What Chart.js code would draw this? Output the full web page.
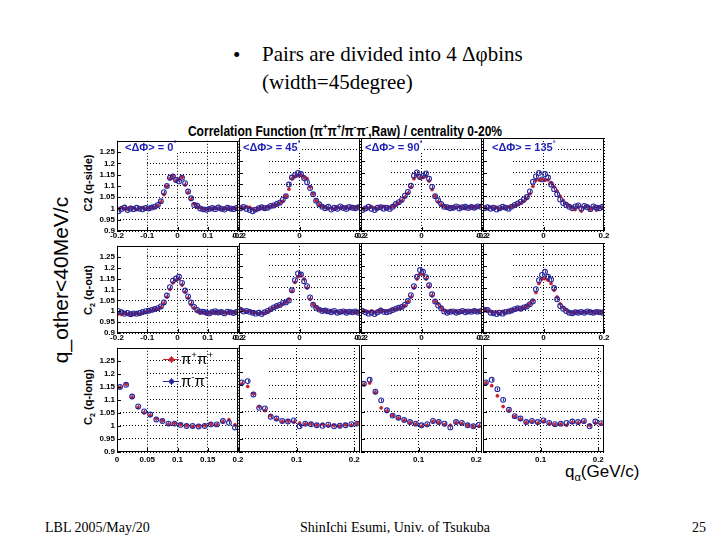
<!DOCTYPE html>
<html>
<head>
<meta charset="utf-8">
<title>Correlation Function - centrality 0-20%</title>
<script src="https://cdn.jsdelivr.net/npm/chart.js@4.4.3/dist/chart.umd.min.js"></script>
<style>
	html, body { margin: 0; padding: 0; background: #fff; }
	#slide { position: relative; width: 720px; height: 540px; overflow: hidden; background: #fff; }
	#slide canvas { position: absolute; }
	.txt { position: absolute; white-space: nowrap; color: #000; line-height: 1; }
	.serif { font-family: "Liberation Serif", "DejaVu Serif", serif; }
	.sans { font-family: "Liberation Sans", Arial, sans-serif; }
	.mid { transform: translate(-50%, -50%); }
	.rot { transform: translate(-50%, -50%) rotate(-90deg); }
	.phi { color: #1f1fb4; font-weight: bold; font-size: 11px; background: #fff; padding: 0 2px; z-index: 2; }
	sup, sub { font-size: 65%; line-height: 0; }
</style>
</head>
<body>
<div id="slide">
	<div class="txt serif" style="left:233px;top:45px;font-size:21px;">&bull;</div>
	<div class="txt serif" style="left:262px;top:44px;font-size:21px;">Pairs are divided into 4 &Delta;&phi;bins</div>
	<div class="txt serif" style="left:262px;top:72px;font-size:21px;">(width=45degree)</div>

	<div class="txt sans" style="left:345px;top:131px;font-size:14px;font-weight:bold;transform:translate(-50%,-50%) scaleX(0.86);">Correlation Function (&pi;<sup>+</sup>&pi;<sup>+</sup>/&pi;<sup>-</sup>&pi;<sup>-</sup>,Raw) / centrality 0-20%</div>

	<div class="txt sans phi" style="left:123px;top:142px;">&lt;&Delta;&Phi;&gt; = 0<sup>&deg;</sup></div>
	<div class="txt sans phi" style="left:241px;top:142px;">&lt;&Delta;&Phi;&gt; = 45<sup>&deg;</sup></div>
	<div class="txt sans phi" style="left:363px;top:142px;">&lt;&Delta;&Phi;&gt; = 90<sup>&deg;</sup></div>
	<div class="txt sans phi" style="left:490px;top:142px;">&lt;&Delta;&Phi;&gt; = 135<sup>&deg;</sup></div>

	<div class="txt sans rot" style="left:88px;top:183px;font-size:11px;font-weight:bold;">C2 (q-side)</div>
	<div class="txt sans rot" style="left:88px;top:290px;font-size:11px;font-weight:bold;">C<sub>2</sub> (q-out)</div>
	<div class="txt sans rot" style="left:88px;top:397px;font-size:11px;font-weight:bold;">C<sub>2</sub> (q-long)</div>

	<div class="txt sans rot" style="left:60px;top:280px;font-size:21px;">q_other&lt;40MeV/c</div>

	<div class="txt sans" style="left:565px;top:463px;font-size:17px;">q<sub>&alpha;</sub>(GeV/c)</div>

	<div class="txt serif" style="left:45px;top:521px;font-size:14px;">LBL 2005/May/20</div>
	<div class="txt serif mid" style="left:395px;top:528px;font-size:14px;">ShinIchi Esumi, Univ. of Tsukuba</div>
	<div class="txt serif" style="left:692px;top:521px;font-size:14px;">25</div>
</div>

<script>
// =========================================================
// Data
// =========================================================

// Bin centres, GeV/c.
var Q_SYM = [-0.195, -0.185, -0.175, -0.165, -0.155, -0.145, -0.135, -0.125, -0.115, -0.105,
	-0.095, -0.085, -0.075, -0.065, -0.055, -0.045, -0.035, -0.025, -0.015, -0.005,
	0.005, 0.015, 0.025, 0.035, 0.045, 0.055, 0.065, 0.075, 0.085, 0.095,
	0.105, 0.115, 0.125, 0.135, 0.145, 0.155, 0.165, 0.175, 0.185, 0.195];
var Q_LONG = [0.005, 0.015, 0.025, 0.035, 0.045, 0.055, 0.065, 0.075, 0.085, 0.095,
	0.105, 0.115, 0.125, 0.135, 0.145, 0.155, 0.165, 0.175, 0.185, 0.195, 0.205];

var PHI_BINS = ['0', '45', '90', '135'];
var SERIES_LABELS = ['π+π+', 'π-π-'];

// Tick labels.
var Y_TICKS = [0.9, 0.95, 1, 1.05, 1.1, 1.15, 1.2, 1.25];
var X_TICKS_SYM_FIRST = [-0.2, -0.1, 0, 0.1, 0.2];
var X_TICKS_SYM = [-0.2, 0, 0.2];
var X_TICKS_LONG_FIRST = [0, 0.05, 0.1, 0.15, 0.2];
var X_TICKS_LONG = [0.1, 0.2];

// C2 (q-side), pi+pi+ and pi-pi-.
var SIDE_PP_0 = [0.998, 1.003, 1.0, 0.996, 1.005, 1.002, 0.995, 1.0, 1.004, 0.998, 1.001, 1.006, 1.004,
	1.012, 1.028, 1.062, 1.098, 1.132, 1.145, 1.122, 1.13, 1.138, 1.104, 1.07, 1.04, 1.02, 1.008, 1.003,
	0.998, 0.996, 1.0, 0.995, 1.004, 1.0, 0.997, 1.002, 1.0, 0.996, 1.003, 0.999];
var SIDE_MM_0 = [0.988, 0.998, 1.004, 0.993, 1.0, 0.997, 1.003, 0.999, 0.996, 1.002, 1.0, 1.004, 1.008,
	1.015, 1.032, 1.072, 1.1, 1.136, 1.142, 1.126, 1.12, 1.136, 1.112, 1.075, 1.045, 1.015, 1.012, 1.0,
	0.996, 0.994, 0.998, 1.002, 0.997, 1.004, 0.999, 0.995, 1.003, 1.0, 0.997, 1.002];
var SIDE_PP_45 = [1.0, 0.998, 1.004, 1.002, 0.995, 0.99, 0.997, 1.0, 0.996, 1.004, 1.006, 1.01, 1.012,
	1.02, 1.028, 1.05, 1.08, 1.125, 1.135, 1.138, 1.14, 1.13, 1.125, 1.09, 1.06, 1.03, 1.012, 1.006,
	1.002, 0.996, 1.0, 0.994, 1.004, 0.998, 1.0, 1.005, 0.996, 1.002, 1.0, 1.004];
var SIDE_MM_45 = [0.998, 1.003, 0.995, 0.99, 0.985, 0.992, 0.998, 1.002, 0.998, 1.0, 1.008, 1.01, 1.016,
	1.022, 1.035, 1.05, 1.1, 1.13, 1.14, 1.15, 1.145, 1.128, 1.11, 1.085, 1.058, 1.03, 1.015, 1.004,
	0.998, 1.004, 0.992, 1.0, 0.996, 1.006, 0.999, 0.995, 1.003, 1.0, 0.998, 1.002];
var SIDE_PP_90 = [0.995, 1.0, 0.998, 1.004, 1.0, 0.996, 1.003, 1.006, 0.998, 1.002, 1.008, 1.012, 1.02,
	1.03, 1.045, 1.062, 1.088, 1.125, 1.14, 1.128, 1.13, 1.135, 1.115, 1.078, 1.05, 1.025, 1.012, 1.006,
	1.0, 1.004, 0.998, 1.002, 1.006, 1.0, 0.996, 1.003, 1.005, 1.0, 1.004, 1.008];
var SIDE_MM_90 = [0.99, 0.997, 1.004, 0.995, 0.99, 1.0, 1.002, 0.996, 1.0, 0.995, 1.004, 1.016, 1.024,
	1.034, 1.052, 1.068, 1.095, 1.138, 1.152, 1.132, 1.138, 1.148, 1.125, 1.09, 1.05, 1.032, 1.016, 1.004,
	1.002, 0.998, 1.0, 1.006, 0.997, 1.002, 1.004, 0.999, 1.003, 1.0, 1.006, 1.004];
var SIDE_PP_135 = [1.0, 0.996, 1.003, 0.998, 1.002, 0.995, 1.0, 0.998, 1.004, 1.006, 1.01, 1.014, 1.02,
	1.028, 1.04, 1.06, 1.092, 1.118, 1.12, 1.122, 1.118, 1.12, 1.108, 1.09, 1.072, 1.05, 1.032, 1.018,
	1.008, 1.0, 0.992, 1.004, 0.986, 1.0, 1.006, 0.994, 1.0, 0.99, 1.004, 0.998];
var SIDE_MM_135 = [0.998, 1.002, 0.996, 1.0, 0.992, 0.998, 1.004, 1.0, 0.996, 1.005, 1.012, 1.018, 1.026,
	1.036, 1.046, 1.07, 1.112, 1.135, 1.15, 1.122, 1.145, 1.13, 1.1, 1.08, 1.058, 1.036, 1.02, 1.012,
	1.004, 0.998, 1.006, 1.01, 0.996, 1.008, 1.002, 0.994, 1.006, 1.0, 0.998, 1.004];

// C2 (q-out).
var OUT_PP_0 = [0.988, 0.985, 0.99, 0.986, 0.984, 0.988, 0.99, 0.986, 0.992, 0.995, 1.0, 1.004, 1.008,
	1.01, 1.018, 1.035, 1.065, 1.1, 1.13, 1.142, 1.148, 1.12, 1.088, 1.06, 1.03, 1.015, 1.0, 0.992,
	0.994, 0.988, 0.992, 0.996, 0.99, 0.995, 0.998, 0.992, 0.994, 0.996, 0.993, 0.995];
var OUT_MM_0 = [1.0, 0.995, 0.988, 0.992, 0.986, 0.99, 0.988, 0.992, 0.996, 1.0, 1.002, 1.006, 1.01,
	1.014, 1.022, 1.04, 1.072, 1.11, 1.14, 1.15, 1.158, 1.13, 1.095, 1.068, 1.04, 1.02, 1.006, 0.998,
	0.998, 0.994, 0.99, 0.996, 1.0, 0.994, 0.996, 0.99, 0.998, 0.995, 0.992, 0.996];
var OUT_PP_45 = [1.008, 1.0, 0.995, 0.998, 0.992, 0.99, 0.986, 0.988, 0.99, 0.995, 1.004, 1.012, 1.018,
	1.022, 1.03, 1.038, 1.05, 1.085, 1.125, 1.15, 1.155, 1.14, 1.1, 1.05, 1.028, 1.015, 1.005, 1.0,
	0.998, 0.994, 1.0, 0.992, 0.996, 0.99, 0.994, 0.998, 0.992, 0.995, 0.99, 0.994];
var OUT_MM_45 = [1.002, 0.996, 0.998, 0.994, 0.99, 0.986, 0.99, 0.984, 0.992, 0.998, 1.006, 1.014, 1.02,
	1.025, 1.034, 1.036, 1.045, 1.09, 1.135, 1.165, 1.16, 1.13, 1.108, 1.058, 1.026, 1.012, 1.004, 0.998,
	1.0, 0.996, 0.992, 0.998, 0.99, 0.994, 0.996, 0.99, 0.995, 0.992, 0.996, 0.99];
var OUT_PP_90 = [1.0, 0.996, 0.994, 0.998, 0.992, 0.996, 1.002, 0.998, 0.996, 1.0, 1.004, 1.006, 1.01,
	1.014, 1.022, 1.038, 1.06, 1.1, 1.14, 1.162, 1.16, 1.14, 1.105, 1.065, 1.04, 1.03, 1.012, 1.0,
	0.996, 1.0, 0.994, 0.998, 0.992, 0.996, 1.0, 0.994, 0.998, 1.002, 0.996, 1.0];
var OUT_MM_90 = [0.998, 0.992, 0.986, 0.99, 0.984, 0.992, 1.0, 0.994, 0.992, 0.996, 1.002, 1.008, 1.012,
	1.016, 1.026, 1.042, 1.068, 1.108, 1.15, 1.18, 1.172, 1.148, 1.112, 1.072, 1.04, 1.022, 1.01, 0.996,
	0.99, 0.994, 0.996, 0.99, 0.994, 0.998, 0.992, 0.996, 0.994, 0.998, 0.995, 0.997];
var OUT_PP_135 = [1.005, 1.0, 0.996, 0.99, 0.994, 0.986, 0.996, 0.99, 0.998, 1.0, 1.004, 1.008, 1.006,
	1.012, 1.02, 1.03, 1.045, 1.08, 1.12, 1.14, 1.142, 1.135, 1.12, 1.09, 1.06, 1.03, 1.014, 1.004,
	0.994, 0.99, 0.992, 0.996, 0.99, 0.994, 0.992, 0.996, 0.99, 0.994, 0.992, 0.996];
var OUT_MM_135 = [1.004, 1.002, 0.99, 0.988, 0.984, 0.99, 0.986, 0.994, 0.996, 1.0, 1.006, 1.01, 1.008,
	1.014, 1.018, 1.028, 1.04, 1.095, 1.135, 1.158, 1.172, 1.15, 1.138, 1.1, 1.05, 1.02, 1.008, 0.998,
	0.99, 0.988, 0.992, 0.99, 0.994, 0.99, 0.996, 0.992, 0.99, 0.994, 0.992, 0.99];

// C2 (q-long), first panel has 20 bins, the others 21.
var LONG_PP_0 = [1.148, 1.16, 1.11, 1.07, 1.05, 1.04, 1.028, 1.02, 1.006, 1.01,
	1.006, 1.002, 0.998, 1.0, 1.002, 1.008, 1.004, 1.016, 1.024, 1.004];
var LONG_MM_0 = [1.15, 1.158, 1.113, 1.075, 1.056, 1.044, 1.025, 1.019, 1.009, 1.009,
	1.004, 1.0, 1.0, 0.998, 1.0, 1.006, 1.006, 1.019, 1.012, 0.994];
var LONG_PP_45 = [1.155, 1.145, 1.118, 1.07, 1.055, 1.036, 1.022, 1.014, 1.016, 1.012,
	1.008, 1.004, 1.006, 1.0, 1.004, 0.998, 1.0, 0.996, 1.002, 1.0, 1.006];
var LONG_MM_45 = [1.16, 1.165, 1.115, 1.065, 1.063, 1.032, 1.025, 1.016, 1.014, 1.018,
	0.996, 1.006, 1.004, 1.0, 0.998, 1.002, 0.996, 0.998, 1.0, 1.004, 1.006];
var LONG_PP_90 = [1.152, 1.158, 1.122, 1.065, 1.052, 1.036, 1.026, 1.018, 1.01, 1.004,
	0.996, 1.0, 1.014, 1.01, 1.002, 1.0, 1.01, 1.006, 1.0, 0.994, 0.996];
var LONG_MM_90 = [1.155, 1.17, 1.125, 1.093, 1.056, 1.036, 1.028, 1.02, 1.012, 1.006,
	1.0, 1.004, 1.016, 1.012, 1.006, 0.992, 1.012, 1.009, 1.0, 0.996, 1.002];
var LONG_PP_135 = [1.158, 1.148, 1.11, 1.07, 1.054, 1.032, 1.022, 1.01, 1.014, 1.008,
	1.014, 1.006, 1.002, 1.004, 1.0, 1.01, 1.008, 1.012, 1.0, 1.008, 1.004];
var LONG_MM_135 = [1.16, 1.17, 1.135, 1.095, 1.058, 1.034, 1.025, 1.012, 1.016, 1.012,
	1.018, 1.009, 1.004, 1.006, 1.009, 1.014, 1.012, 1.016, 0.996, 1.014, 1.008];

// Typical statistical error per point, per row.
var ERR_SIDE = 0.006;
var ERR_OUT = 0.006;
var ERR_LONG = 0.005;

(function () {
	'use strict';

	var RED = '#c8202a';
	var BLUE = '#26269c';

	Chart.defaults.font.family = '"Liberation Sans", Arial, sans-serif';
	Chart.defaults.color = '#000';

	// Panel boxes on the slide (px).
	var COL_LEFT = [117, 239, 361, 483];
	var COL_W = 121;
	var ROW_TOP = [138, 243, 345];
	var ROW_H = [93, 90, 107];

	var rows = [
		{ pp: [SIDE_PP_0, SIDE_PP_45, SIDE_PP_90, SIDE_PP_135], mm: [SIDE_MM_0, SIDE_MM_45, SIDE_MM_90, SIDE_MM_135], q: Q_SYM, err: ERR_SIDE, sym: true },
		{ pp: [OUT_PP_0, OUT_PP_45, OUT_PP_90, OUT_PP_135], mm: [OUT_MM_0, OUT_MM_45, OUT_MM_90, OUT_MM_135], q: Q_SYM, err: ERR_OUT, sym: true },
		{ pp: [LONG_PP_0, LONG_PP_45, LONG_PP_90, LONG_PP_135], mm: [LONG_MM_0, LONG_MM_45, LONG_MM_90, LONG_MM_135], q: Q_LONG, err: ERR_LONG, sym: false }
	];

	function fmt(v) {
		return String(Math.round(v * 100) / 100);
	}

	function points(q, vals) {
		return vals.map(function (y, i) { return { x: q[i], y: y }; });
	}

	function tickList(list) {
		return function (axis) {
			axis.ticks = list.map(function (v) { return { value: v }; });
		};
	}

	// Frame, inward tick marks and error bars, ROOT style.
	var rootStyle = {
		id: 'rootStyle',
		beforeDatasetsDraw: function (chart) {
			var ctx = chart.ctx;
			var a = chart.chartArea;
			var ys = chart.scales.y;
			ctx.save();

			// Empty text pave in the upper left hides the grid there.
			ctx.fillStyle = '#fff';
			var paveBottom = ys.getPixelForValue(1.1) + 3;
			ctx.fillRect(a.left + 1, a.top + 1, 28, paveBottom - a.top);

			ctx.lineWidth = 1;
			chart.data.datasets.forEach(function (ds, i) {
				var meta = chart.getDatasetMeta(i);
				ctx.strokeStyle = ds.borderColor;
				meta.data.forEach(function (el, j) {
					var y = ds.data[j].y;
					ctx.beginPath();
					ctx.moveTo(Math.round(el.x) + 0.5, ys.getPixelForValue(y - ds.err));
					ctx.lineTo(Math.round(el.x) + 0.5, ys.getPixelForValue(y + ds.err));
					ctx.stroke();
				});
			});
			ctx.restore();
		},
		afterDraw: function (chart) {
			var ctx = chart.ctx;
			var a = chart.chartArea;
			ctx.save();
			ctx.strokeStyle = '#000';
			ctx.lineWidth = 1;
			ctx.beginPath();
			chart.scales.x.ticks.forEach(function (t) {
				var px = Math.round(chart.scales.x.getPixelForValue(t.value)) + 0.5;
				ctx.moveTo(px, a.bottom);
				ctx.lineTo(px, a.bottom - 4);
			});
			chart.scales.y.ticks.forEach(function (t) {
				var py = Math.round(chart.scales.y.getPixelForValue(t.value)) + 0.5;
				ctx.moveTo(a.left, py);
				ctx.lineTo(a.left + 4, py);
			});
			ctx.stroke();
			ctx.strokeRect(Math.round(a.left) + 0.5, Math.round(a.top) + 0.5,
				Math.round(a.right - a.left) - 1, Math.round(a.bottom - a.top) - 1);
			ctx.restore();
		}
	};

	function makePanel(r, c) {
		var row = rows[r];
		var first = c === 0;
		var yw = first ? 30 : 0;
		var padL = first ? 34 : 12, padR = 12, padT = 4, padB = 18, xh = 14;
		var W = COL_W, H = ROW_H[r];

		var canvas = document.createElement('canvas');
		canvas.width = padL + W + padR;
		canvas.height = padT + H + padB;
		canvas.style.left = (COL_LEFT[c] - padL) + 'px';
		canvas.style.top = (ROW_TOP[r] - padT) + 'px';
		document.getElementById('slide').appendChild(canvas);

		var xTicks = row.sym ? (first ? X_TICKS_SYM_FIRST : X_TICKS_SYM) : (first ? X_TICKS_LONG_FIRST : X_TICKS_LONG);
		var xMin = row.sym ? -0.2 : 0;
		var xMax = row.sym ? 0.2 : (first ? 0.2 : 0.21);

		new Chart(canvas, {
			type: 'scatter',
			data: {
				datasets: [
					{
						label: SERIES_LABELS[1] + ' ' + PHI_BINS[c],
						data: points(row.q, row.mm[c]),
						err: row.err,
						pointStyle: 'circle',
						pointRadius: 2.4,
						borderWidth: 1.1,
						borderColor: BLUE,
						backgroundColor: 'rgba(0,0,0,0)',
						order: 1
					},
					{
						label: SERIES_LABELS[0] + ' ' + PHI_BINS[c],
						data: points(row.q, row.pp[c]),
						err: row.err,
						pointStyle: 'circle',
						pointRadius: 1.6,
						borderWidth: 0.5,
						borderColor: RED,
						backgroundColor: RED,
						order: 2
					}
				]
			},
			options: {
				responsive: false,
				animation: false,
				devicePixelRatio: 1,
				layout: { autoPadding: false, padding: { left: padL - yw, right: padR, top: padT, bottom: padB - xh } },
				plugins: { legend: { display: false }, tooltip: { enabled: false } },
				scales: {
					x: {
						type: 'linear',
						min: xMin,
						max: xMax,
						afterBuildTicks: tickList(xTicks),
						afterFit: function (axis) { axis.height = xh; },
						grid: { color: '#000', lineWidth: 1, drawTicks: false },
						border: { display: false, dash: [1, 2] },
						ticks: {
							padding: row.sym ? 0 : 3,
							maxRotation: 0,
							autoSkip: false,
							font: { size: 8, weight: 'bold' },
							callback: fmt
						}
					},
					y: {
						type: 'linear',
						min: 0.9,
						max: 1.3,
						afterBuildTicks: tickList(Y_TICKS),
						afterFit: function (axis) { axis.width = yw; },
						grid: { color: '#000', lineWidth: 1, drawTicks: false },
						border: { display: false, dash: [1, 2] },
						ticks: {
							display: first,
							padding: 2,
							autoSkip: false,
							font: { size: 8, weight: 'bold' },
							callback: fmt
						}
					}
				}
			},
			plugins: [rootStyle]
		});
	}

	// Legend drawn inside the first q-long panel.
	function makeLegend() {
		var slide = document.getElementById('slide');
		[[RED, 359, 'π<sup>+</sup>π<sup>+</sup>'], [BLUE, 381, 'π<sup>-</sup>π<sup>-</sup>']].forEach(function (e) {
			var line = document.createElement('div');
			line.style.cssText = 'position:absolute;left:163px;width:16px;height:1px;top:' + e[1] + 'px;background:' + e[0];
			var dot = document.createElement('div');
			dot.style.cssText = 'position:absolute;left:169px;width:5px;height:5px;border-radius:3px;top:' + (e[1] - 2) + 'px;background:' + e[0];
			var bar = document.createElement('div');
			bar.style.cssText = 'position:absolute;left:171px;width:1px;height:7px;top:' + (e[1] - 3) + 'px;background:' + e[0];
			var label = document.createElement('div');
			label.className = 'txt sans';
			label.style.cssText = 'left:181px;top:' + (e[1] - 8) + 'px;font-size:15px;';
			label.innerHTML = e[2];
			[line, dot, bar, label].forEach(function (n) { slide.appendChild(n); });
		});
	}

	for (var r = 0; r < 3; r++) {
		for (var c = 0; c < 4; c++) {
			makePanel(r, c);
		}
	}
	makeLegend();
})();
</script>
</body>
</html>
